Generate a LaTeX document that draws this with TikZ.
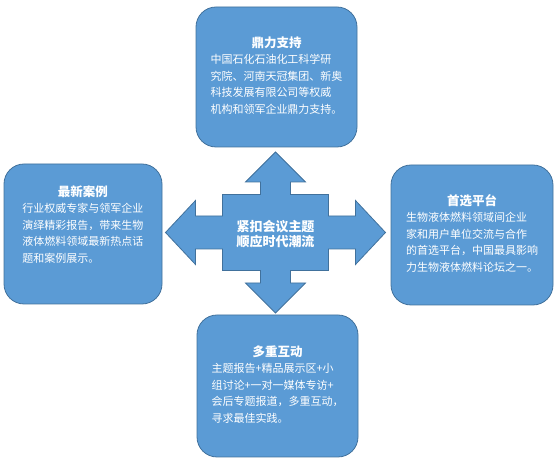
\documentclass[tikz,border=0pt]{standalone}
\usepackage{fontspec}
\setmainfont{Noto Sans CJK SC}
\usepackage{tikz}
\usetikzlibrary{positioning}
\definecolor{cardInk}{RGB}{65,113,156}
\definecolor{cardBg}{RGB}{91,155,213}

\begin{document}
\begin{tikzpicture}[
  x=1pt, y=1pt,
  font=\fontsize{11}{16.5}\selectfont,
  card/.style ={draw=cardInk, line width=.8pt, fill=cardBg, rounded corners=20pt,
                minimum width=161pt, minimum height=140pt, inner sep=0pt, text=white},
  hubarrow/.style={draw=cardInk, line width=.8pt, fill=cardBg, line join=miter},
  hubtext/.style ={font=\fontsize{13}{15}\selectfont\bfseries, text=white, align=center, inner sep=0pt},
]
\useasboundingbox (0,0) rectangle (558,462);

% ============ FOUR CARDS ============
\node[card] (support)  at (276.5,385) {};
\node[card, minimum width=158pt] (cases) at (83,228) {};
\node[card, minimum width=162pt] (platform) at (472,227) {};
\node[card, minimum height=142pt] (interact) at (277.5,76) {};

\node[text=white] (supportTxt) at (support.center) {\begin{tabular}{@{}l@{}}
  \multicolumn{1}{@{}c@{}}{\fontsize{12.5}{16.5}\selectfont\bfseries 鼎力支持}\\
  中国石化石油化工科学研\\
  究院、河南天冠集团、新奥\\
  科技发展有限公司等权威\\
  机构和领军企业鼎力支持。
\end{tabular}};

\node[text=white] (casesTxt) at ([yshift=8pt]cases.center) {\begin{tabular}{@{}l@{}}
  \multicolumn{1}{@{}c@{}}{\fontsize{12.5}{16.5}\selectfont\bfseries 最新案例}\\
  行业权威专家与领军企业\\
  演绎精彩报告，带来生物\\
  液体燃料领域最新热点话\\
  题和案例展示。
\end{tabular}};

\node[text=white] (platformTxt) at (platform.center) {\begin{tabular}{@{}l@{}}
  \multicolumn{1}{@{}c@{}}{\fontsize{12.5}{16.5}\selectfont\bfseries 首选平台}\\
  生物液体燃料领域间企业\\
  家和用户单位交流与合作\\
  的首选平台，中国最具影响\\
  力生物液体燃料论坛之一。
\end{tabular}};

\node[text=white] (interactTxt) at (interact.center) {\begin{tabular}{@{}l@{}}
  \multicolumn{1}{@{}c@{}}{\fontsize{12.5}{16.5}\selectfont\bfseries 多重互动}\\
  主题报告+精品展示区+小\\
  组讨论+一对一媒体专访+\\
  会后专题报道，多重互动，\\
  寻求最佳实践。
\end{tabular}};

% ============ CENTRAL FOUR-WAY ARROW ============
\coordinate (hubC) at (275.5,229.5);
\draw[hubarrow, shift={(hubC)}]
  (0,80.5) -- (30,50.5) -- (15,50.5) -- (15,38) -- (53,38) -- (53,16.5)
  -- (80,16.5) -- (80,32) -- (110,0) -- (80,-32) -- (80,-16.5) -- (53,-16.5)
  -- (53,-38) -- (15,-38) -- (15,-50.5) -- (30,-50.5) -- (0,-80.5)
  -- (-30,-50.5) -- (-15,-50.5) -- (-15,-38) -- (-53,-38) -- (-53,-16.5)
  -- (-80,-16.5) -- (-80,-32) -- (-110,0) -- (-80,32) -- (-80,16.5)
  -- (-53,16.5) -- (-53,38) -- (-15,38) -- (-15,50.5) -- (-30,50.5) -- cycle;
\node[hubtext] (hub) at ([yshift=-2pt]hubC) {紧扣会议主题\\顺应时代潮流};

\end{tikzpicture}
\end{document}
